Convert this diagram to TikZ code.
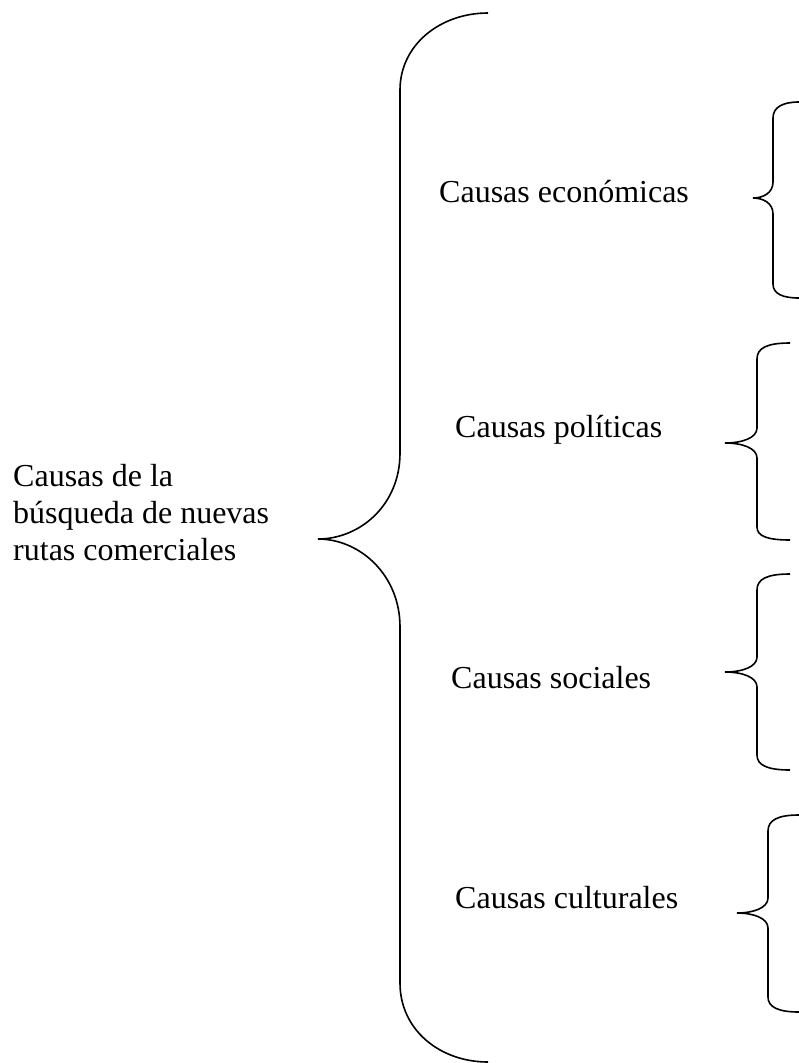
\documentclass[tikz,border=0pt]{standalone}
\usepackage{fontspec}
\setmainfont{Liberation Serif}
\tikzset{
  causa/.style={inner sep=0pt, font=\fontsize{32}{37}\selectfont},
  llave/.style={black, line width=1.6pt}
}
\begin{document}
\begin{tikzpicture}[x=1pt,y=-1pt]
  \useasboundingbox (0,0) rectangle (799,1063);

  \node [causa, anchor=base west] (tema1) at (13,486) {Causas de la}; % title, line 1
  \node [causa, anchor=base west] (tema2) at (13,523) {búsqueda de nuevas}; % title, line 2
  \node [causa, anchor=base west] (tema3) at (13,560) {rutas comerciales}; % title, line 3

  \node [causa, anchor=base west] (economicas) at (439,202) {Causas económicas};
  \node [causa, anchor=base west] (politicas) at (455,437) {Causas políticas};
  \node [causa, anchor=base west] (sociales) at (451,688) {Causas sociales};
  \node [causa, anchor=base west] (culturales) at (455,908) {Causas culturales};

  % Draws the big brace
  \draw [llave] (488,13) .. controls (440,13) and (400,45) .. (400,90)
    -- (400,453) .. controls (400,505) and (360,539) .. (318,539)
    .. controls (360,539) and (400,575) .. (400,627)
    -- (400,983) .. controls (400,1030) and (440,1062) .. (488,1062);

  % Draws the small braces
  \draw [llave] (799,102) .. controls (783,102) and (773,107) .. (773,118)
    -- (773,182) .. controls (773,193) and (763,198) .. (753,198)
    .. controls (763,198) and (773,203) .. (773,214)
    -- (773,284) .. controls (773,294) and (783,298) .. (799,298);
  \draw [llave] (790,343) .. controls (767,343) and (757,348) .. (757,359)
    -- (757,428) .. controls (757,438) and (742,443) .. (725,443)
    .. controls (742,443) and (757,448) .. (757,458)
    -- (757,527) .. controls (757,536) and (767,540) .. (790,540);
  \draw [llave] (790,574) .. controls (767,574) and (757,579) .. (757,590)
    -- (757,657) .. controls (757,667) and (742,672) .. (725,672)
    .. controls (742,672) and (757,677) .. (757,687)
    -- (757,755) .. controls (757,765) and (767,770) .. (790,770);
  \draw [llave] (799,815) .. controls (778,815) and (768,820) .. (768,831)
    -- (768,898) .. controls (768,908) and (753,913) .. (737,913)
    .. controls (753,913) and (768,918) .. (768,928)
    -- (768,997) .. controls (768,1007) and (778,1012) .. (799,1012);
\end{tikzpicture}
\end{document}
